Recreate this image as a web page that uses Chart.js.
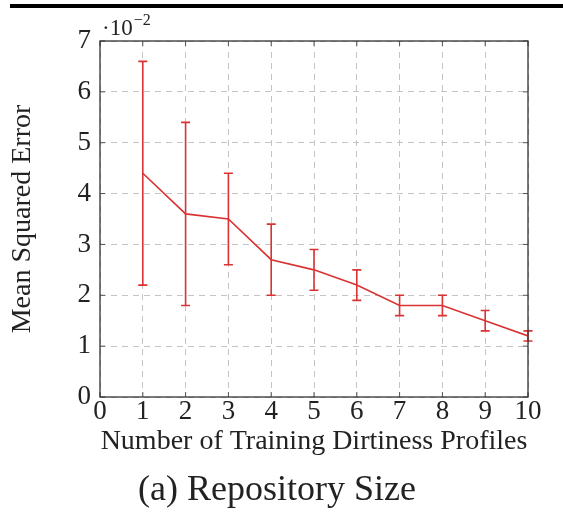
<!DOCTYPE html>
<html><head><meta charset="utf-8">
<script src="https://cdn.jsdelivr.net/npm/chart.js@4/dist/chart.umd.min.js"></script>
<style>
html,body{margin:0;padding:0;background:#fff;}
#wrap{position:relative;width:563px;height:515px;overflow:hidden;}
#rule{position:absolute;left:10px;right:0;top:4px;height:4px;background:#000;}
canvas{display:block;}
</style>
</head><body>
<div id="wrap"><canvas id="c" width="563" height="515"></canvas><div id="rule"></div></div>
<script>
// values in units of 10^-2
const profiles = [1, 2, 3, 4, 5, 6, 7, 8, 9, 10];
const mse      = [4.4, 3.6, 3.5, 2.7, 2.5, 2.2, 1.8, 1.8, 1.5, 1.2];
const errUpper = [6.6, 5.4, 4.4, 3.4, 2.9, 2.5, 2.0, 2.0, 1.7, 1.3];
const errLower = [2.2, 1.8, 2.6, 2.0, 2.1, 1.9, 1.6, 1.6, 1.3, 1.1];
const xTicks = [0,1,2,3,4,5,6,7,8,9,10];
const yTicks = [0,1,2,3,4,5,6,7];
const caption = '(a) Repository Size';

const FONT = "'Liberation Serif', 'Times New Roman', serif";
const RED = 'rgb(218,50,50)';
const TXT = '#222';

const frame = {
  id: 'frame',
  afterDatasetsDraw(chart) {
    const {ctx, chartArea: a, scales: {x, y}} = chart;
    ctx.save();
    // error bars
    ctx.strokeStyle = RED; ctx.lineWidth = 1.6;
    profiles.forEach((p, i) => {
      const px = x.getPixelForValue(p);
      const yt = y.getPixelForValue(errUpper[i]);
      const yb = y.getPixelForValue(errLower[i]);
      ctx.beginPath();
      ctx.moveTo(px, yt); ctx.lineTo(px, yb);
      ctx.moveTo(px - 4.5, yt); ctx.lineTo(px + 4.5, yt);
      ctx.moveTo(px - 4.5, yb); ctx.lineTo(px + 4.5, yb);
      ctx.stroke();
    });
    // inner tick marks
    ctx.strokeStyle = '#555'; ctx.lineWidth = 1;
    xTicks.forEach(v => {
      const px = x.getPixelForValue(v);
      ctx.beginPath();
      ctx.moveTo(px, a.top); ctx.lineTo(px, a.top + 5);
      ctx.moveTo(px, a.bottom); ctx.lineTo(px, a.bottom - 5);
      ctx.stroke();
    });
    yTicks.forEach(v => {
      const py = y.getPixelForValue(v);
      ctx.beginPath();
      ctx.moveTo(a.left, py); ctx.lineTo(a.left + 5, py);
      ctx.moveTo(a.right, py); ctx.lineTo(a.right - 5, py);
      ctx.stroke();
    });
    // box
    ctx.strokeStyle = '#333'; ctx.lineWidth = 1.3;
    ctx.strokeRect(a.left, a.top, a.right - a.left, a.bottom - a.top);
    // multiplier label
    ctx.fillStyle = TXT;
    ctx.textBaseline = 'alphabetic';
    ctx.textAlign = 'left';
    ctx.font = '23px ' + FONT;
    const base = '\u00B710';
    ctx.fillText(base, a.left + 2, a.top - 6);
    const w = ctx.measureText(base).width;
    ctx.font = '16px ' + FONT;
    ctx.fillText('\u22122', a.left + 2 + w + 1, a.top - 16);
    // caption
    ctx.font = '36px ' + FONT;
    ctx.textAlign = 'center';
    ctx.textBaseline = 'middle';
    ctx.fillText(caption, 277, 491);
    ctx.restore();
  }
};

new Chart(document.getElementById('c'), {
  type: 'line',
  data: {
    datasets: [{
      data: profiles.map((p, i) => ({x: p, y: mse[i]})),
      borderColor: RED,
      borderWidth: 1.6,
      pointRadius: 0,
      tension: 0,
      fill: false
    }]
  },
  plugins: [frame],
  options: {
    responsive: false,
    animation: false,
    layout: {padding: {left: 0, top: 41, right: 35, bottom: 45.2}},
    plugins: {
      legend: {display: false},
      tooltip: {enabled: false},
      title: {display: false}
    },
    scales: {
      x: {
        type: 'linear', min: 0, max: 10,
        afterBuildTicks: s => { s.ticks = xTicks.map(v => ({value: v})); },
        afterFit: s => { s.height = 72.8; },
        grid: {color: '#c4c4c4', lineWidth: 1, drawTicks: false},
        border: {display: false, dash: [6, 5]},
        ticks: {color: TXT, padding: 1, font: {family: FONT, size: 27, lineHeight: 1}, maxRotation: 0},
        title: {display: true, text: 'Number of Training Dirtiness Profiles', color: TXT,
                font: {family: FONT, size: 28, lineHeight: 1.2}, padding: {top: 0, bottom: 11.6}}
      },
      y: {
        type: 'linear', min: 0, max: 7,
        afterBuildTicks: s => { s.ticks = yTicks.map(v => ({value: v})); },
        afterFit: s => { s.width = 100; },
        grid: {color: '#c4c4c4', lineWidth: 1, drawTicks: false},
        border: {display: false, dash: [6, 5]},
        ticks: {color: TXT, padding: 9, font: {family: FONT, size: 27, lineHeight: 1}},
        title: {display: true, text: 'Mean Squared Error', color: TXT,
                font: {family: FONT, size: 28, lineHeight: 1.2}, padding: {top: 5.7, bottom: 0}}
      }
    }
  }
});
</script>
</body></html>
